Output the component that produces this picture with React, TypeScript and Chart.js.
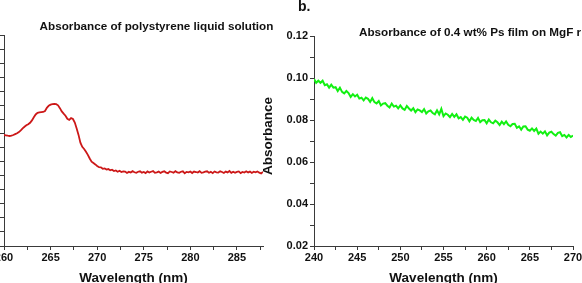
import { useEffect, useRef } from 'react';
import { Chart, registerables } from 'chart.js';

Chart.register(...registerables);

const FONT = "'Liberation Sans', Arial, Helvetica, sans-serif";
const INK = '#111111';
const AXIS = '#3a3a3a';
const SOLUTION_COLOR = '#cc1818';
const FILM_COLOR = '#12f012';

// Panel a: polystyrene in solution, sampled every 0.2 nm from 260 nm
const SOLUTION_START_NM = 260;
const SOLUTION_STEP_NM = 0.2;
const solutionAbsorbance = [
  0.789, 0.787, 0.784, 0.782, 0.785, 0.789, 0.795, 0.801, 0.810, 0.822,
  0.836, 0.848, 0.858, 0.866, 0.876, 0.893, 0.915, 0.935, 0.946, 0.950,
  0.952, 0.953, 0.960, 0.982, 0.998, 1.005, 1.009, 1.010, 1.008, 1.000,
  0.980, 0.957, 0.941, 0.926, 0.904, 0.896, 0.909, 0.903, 0.878, 0.835,
  0.790, 0.735, 0.705, 0.690, 0.670, 0.648, 0.622, 0.600, 0.590, 0.580,
  0.569, 0.560, 0.559, 0.549, 0.552, 0.543, 0.547, 0.538, 0.542, 0.533,
  0.537, 0.528, 0.535, 0.526, 0.531,
  0.529, 0.519, 0.527, 0.522, 0.532, 0.524, 0.520, 0.528, 0.531, 0.521,
  0.526, 0.518, 0.530, 0.523, 0.528, 0.533, 0.520, 0.524, 0.529, 0.519,
  0.527, 0.531, 0.522, 0.518, 0.530, 0.526, 0.521, 0.532, 0.523, 0.520,
  0.528, 0.531, 0.517, 0.527, 0.524, 0.530, 0.519, 0.529, 0.526, 0.522,
  0.532, 0.520, 0.523, 0.528, 0.531, 0.521, 0.527, 0.518, 0.530, 0.524,
  0.522, 0.531, 0.526, 0.519, 0.529, 0.523, 0.533, 0.520, 0.528, 0.521,
  0.527, 0.530, 0.518, 0.526, 0.522, 0.531, 0.523, 0.529, 0.519, 0.528,
  0.524, 0.530, 0.521, 0.516, 0.527,
];
const solutionWavelengthLabels = [260, 265, 270, 275, 280, 285];

// Panel b: 0.4 wt% PS film on MgF, sampled every 0.25 nm from 240 nm
const FILM_START_NM = 240;
const FILM_STEP_NM = 0.25;
const filmAbsorbance = [
  0.0995, 0.0977, 0.0987, 0.0977, 0.0987, 0.0966, 0.0970, 0.0954, 0.0968, 0.0954,
  0.0956, 0.0938, 0.0954, 0.0934, 0.0927, 0.0938, 0.0928, 0.0910, 0.0923, 0.0912,
  0.0920, 0.0902, 0.0906, 0.0893, 0.0907, 0.0901, 0.0886, 0.0904, 0.0885, 0.0879,
  0.0890, 0.0869, 0.0878, 0.0880, 0.0868, 0.0860, 0.0878, 0.0864, 0.0868, 0.0855,
  0.0869, 0.0855, 0.0848, 0.0867, 0.0855, 0.0845, 0.0856, 0.0837, 0.0850, 0.0846,
  0.0838, 0.0852, 0.0831, 0.0841, 0.0845, 0.0833, 0.0827, 0.0846, 0.0827, 0.0853,
  0.0818, 0.0831, 0.0825, 0.0814, 0.0829, 0.0815, 0.0827, 0.0808, 0.0814, 0.0801,
  0.0816, 0.0811, 0.0794, 0.0811, 0.0800, 0.0795, 0.0810, 0.0790, 0.0799, 0.0800,
  0.0784, 0.0802, 0.0789, 0.0784, 0.0797, 0.0789, 0.0776, 0.0792, 0.0780, 0.0793,
  0.0777, 0.0770, 0.0781, 0.0782, 0.0763, 0.0770, 0.0754, 0.0769, 0.0770, 0.0754,
  0.0749, 0.0760, 0.0748, 0.0759, 0.0735, 0.0745, 0.0735, 0.0746, 0.0727, 0.0740,
  0.0744, 0.0733, 0.0726, 0.0739, 0.0742, 0.0723, 0.0729, 0.0717, 0.0729, 0.0719,
  0.0726,
];
const filmWavelengthLabels = [240, 245, 250, 255, 260, 265, 270];
const filmAbsorbanceLabels = [0.02, 0.04, 0.06, 0.08, 0.10, 0.12];

const toPoints = (values: number[], start: number, step: number) =>
  values.map((y, i) => ({ x: Math.round((start + i * step) * 100) / 100, y }));

const hasLabel = (labels: number[], v: number) => labels.some((l) => Math.abs(l - v) < 1e-6);

type Caption = {
  text: string;
  x: number;
  y: number;
  font: string;
  align?: CanvasTextAlign;
  baseline?: CanvasTextBaseline;
  rotate?: number;
};

function captionsPlugin(items: Caption[]) {
  return {
    id: 'captions',
    afterDraw(chart: Chart) {
      const ctx = chart.ctx;
      for (const c of items) {
        ctx.save();
        ctx.font = c.font;
        ctx.fillStyle = INK;
        ctx.textAlign = c.align ?? 'left';
        ctx.textBaseline = c.baseline ?? 'alphabetic';
        ctx.translate(c.x, c.y);
        if (c.rotate) ctx.rotate(c.rotate);
        ctx.fillText(c.text, 0, 0);
        ctx.restore();
      }
    },
  };
}

const tickFont = { family: FONT, size: 11, weight: 'bold' as const };
const titleFont = { family: FONT, size: 13.5, weight: 'bold' as const };
const gridStyle = { drawOnChartArea: false, drawTicks: true, tickLength: 4, tickColor: AXIS, tickWidth: 1 };
const borderStyle = { color: AXIS, width: 1 };

function wavelengthAxis(min: number, max: number, labels: number[], height: number) {
  return {
    type: 'linear' as const,
    min,
    max,
    ticks: {
      stepSize: 2.5,
      includeBounds: false,
      autoSkip: false,
      maxRotation: 0,
      padding: 1.5,
      color: INK,
      font: tickFont,
      callback: (v: number | string) => (hasLabel(labels, Number(v)) ? String(Number(v)) : ''),
    },
    grid: gridStyle,
    border: borderStyle,
    title: {
      display: true,
      text: 'Wavelength (nm)',
      color: INK,
      font: titleFont,
      padding: { top: 0, bottom: 13.9 },
    },
    afterFit: (s: any) => {
      s.height = height;
      s.paddingLeft = 0;
      s.paddingRight = 0;
    },
  };
}

function lineDataset(points: { x: number; y: number }[], color: string, width: number) {
  return {
    data: points,
    borderColor: color,
    borderWidth: width,
    pointRadius: 0,
    fill: false,
    tension: 0,
  };
}

export default function App() {
  const leftRef = useRef<HTMLCanvasElement>(null);
  const rightRef = useRef<HTMLCanvasElement>(null);

  useEffect(() => {
    const left = new Chart(leftRef.current!, {
      type: 'line',
      data: {
        datasets: [
          lineDataset(toPoints(solutionAbsorbance, SOLUTION_START_NM, SOLUTION_STEP_NM), SOLUTION_COLOR, 1.8),
        ],
      },
      options: {
        animation: false,
        responsive: false,
        devicePixelRatio: 1,
        layout: { padding: { left: 0, top: 35, right: 27, bottom: 0 } },
        plugins: { legend: { display: false }, tooltip: { enabled: false }, title: { display: false } },
        scales: {
          x: wavelengthAxis(260, 287.8, solutionWavelengthLabels, 54),
          y: {
            type: 'linear',
            min: 0,
            max: 1.5,
            ticks: { stepSize: 0.1, display: false },
            grid: gridStyle,
            border: borderStyle,
            afterFit: (s: any) => {
              s.width = 4;
            },
          },
        },
      },
      plugins: [
        captionsPlugin([
          {
            text: 'Absorbance of polystyrene liquid solution',
            x: 156.5,
            y: 29.5,
            align: 'center',
            font: `bold 11.7px ${FONT}`,
          },
        ]),
      ],
    } as any);

    const right = new Chart(rightRef.current!, {
      type: 'line',
      data: {
        datasets: [lineDataset(toPoints(filmAbsorbance, FILM_START_NM, FILM_STEP_NM), FILM_COLOR, 2)],
      },
      options: {
        animation: false,
        responsive: false,
        devicePixelRatio: 1,
        layout: { padding: { left: 0, top: 36, right: 37, bottom: 0 } },
        plugins: { legend: { display: false }, tooltip: { enabled: false }, title: { display: false } },
        scales: {
          x: wavelengthAxis(240, 270, filmWavelengthLabels, 54),
          y: {
            type: 'linear',
            min: 0.02,
            max: 0.12,
            ticks: {
              stepSize: 0.01,
              autoSkip: false,
              padding: 2,
              color: INK,
              font: tickFont,
              callback: (v: number | string) =>
                hasLabel(filmAbsorbanceLabels, Number(v)) ? Number(v).toFixed(2) : '',
            },
            grid: gridStyle,
            border: borderStyle,
            afterFit: (s: any) => {
              s.width = 64;
            },
          },
        },
      },
      plugins: [
        captionsPlugin([
          { text: 'b.', x: 48, y: 10.5, font: `bold 14px ${FONT}` },
          {
            text: 'Absorbance of 0.4 wt% Ps film on MgF r',
            x: 109,
            y: 36,
            font: `bold 11.7px ${FONT}`,
          },
          {
            text: 'Absorbance',
            x: 18,
            y: 136,
            align: 'center',
            baseline: 'middle',
            rotate: -Math.PI / 2,
            font: `bold 13.5px ${FONT}`,
          },
        ]),
      ],
    } as any);

    return () => {
      left.destroy();
      right.destroy();
    };
  }, []);

  return (
    <div
      style={{
        position: 'fixed',
        left: 0,
        top: 0,
        width: 582,
        height: 283,
        overflow: 'hidden',
        background: '#ffffff',
      }}
    >
      <canvas ref={leftRef} width={290} height={300} style={{ position: 'absolute', left: 0, top: 0 }} />
      <canvas ref={rightRef} width={360} height={300} style={{ position: 'absolute', left: 250, top: 0 }} />
    </div>
  );
}
